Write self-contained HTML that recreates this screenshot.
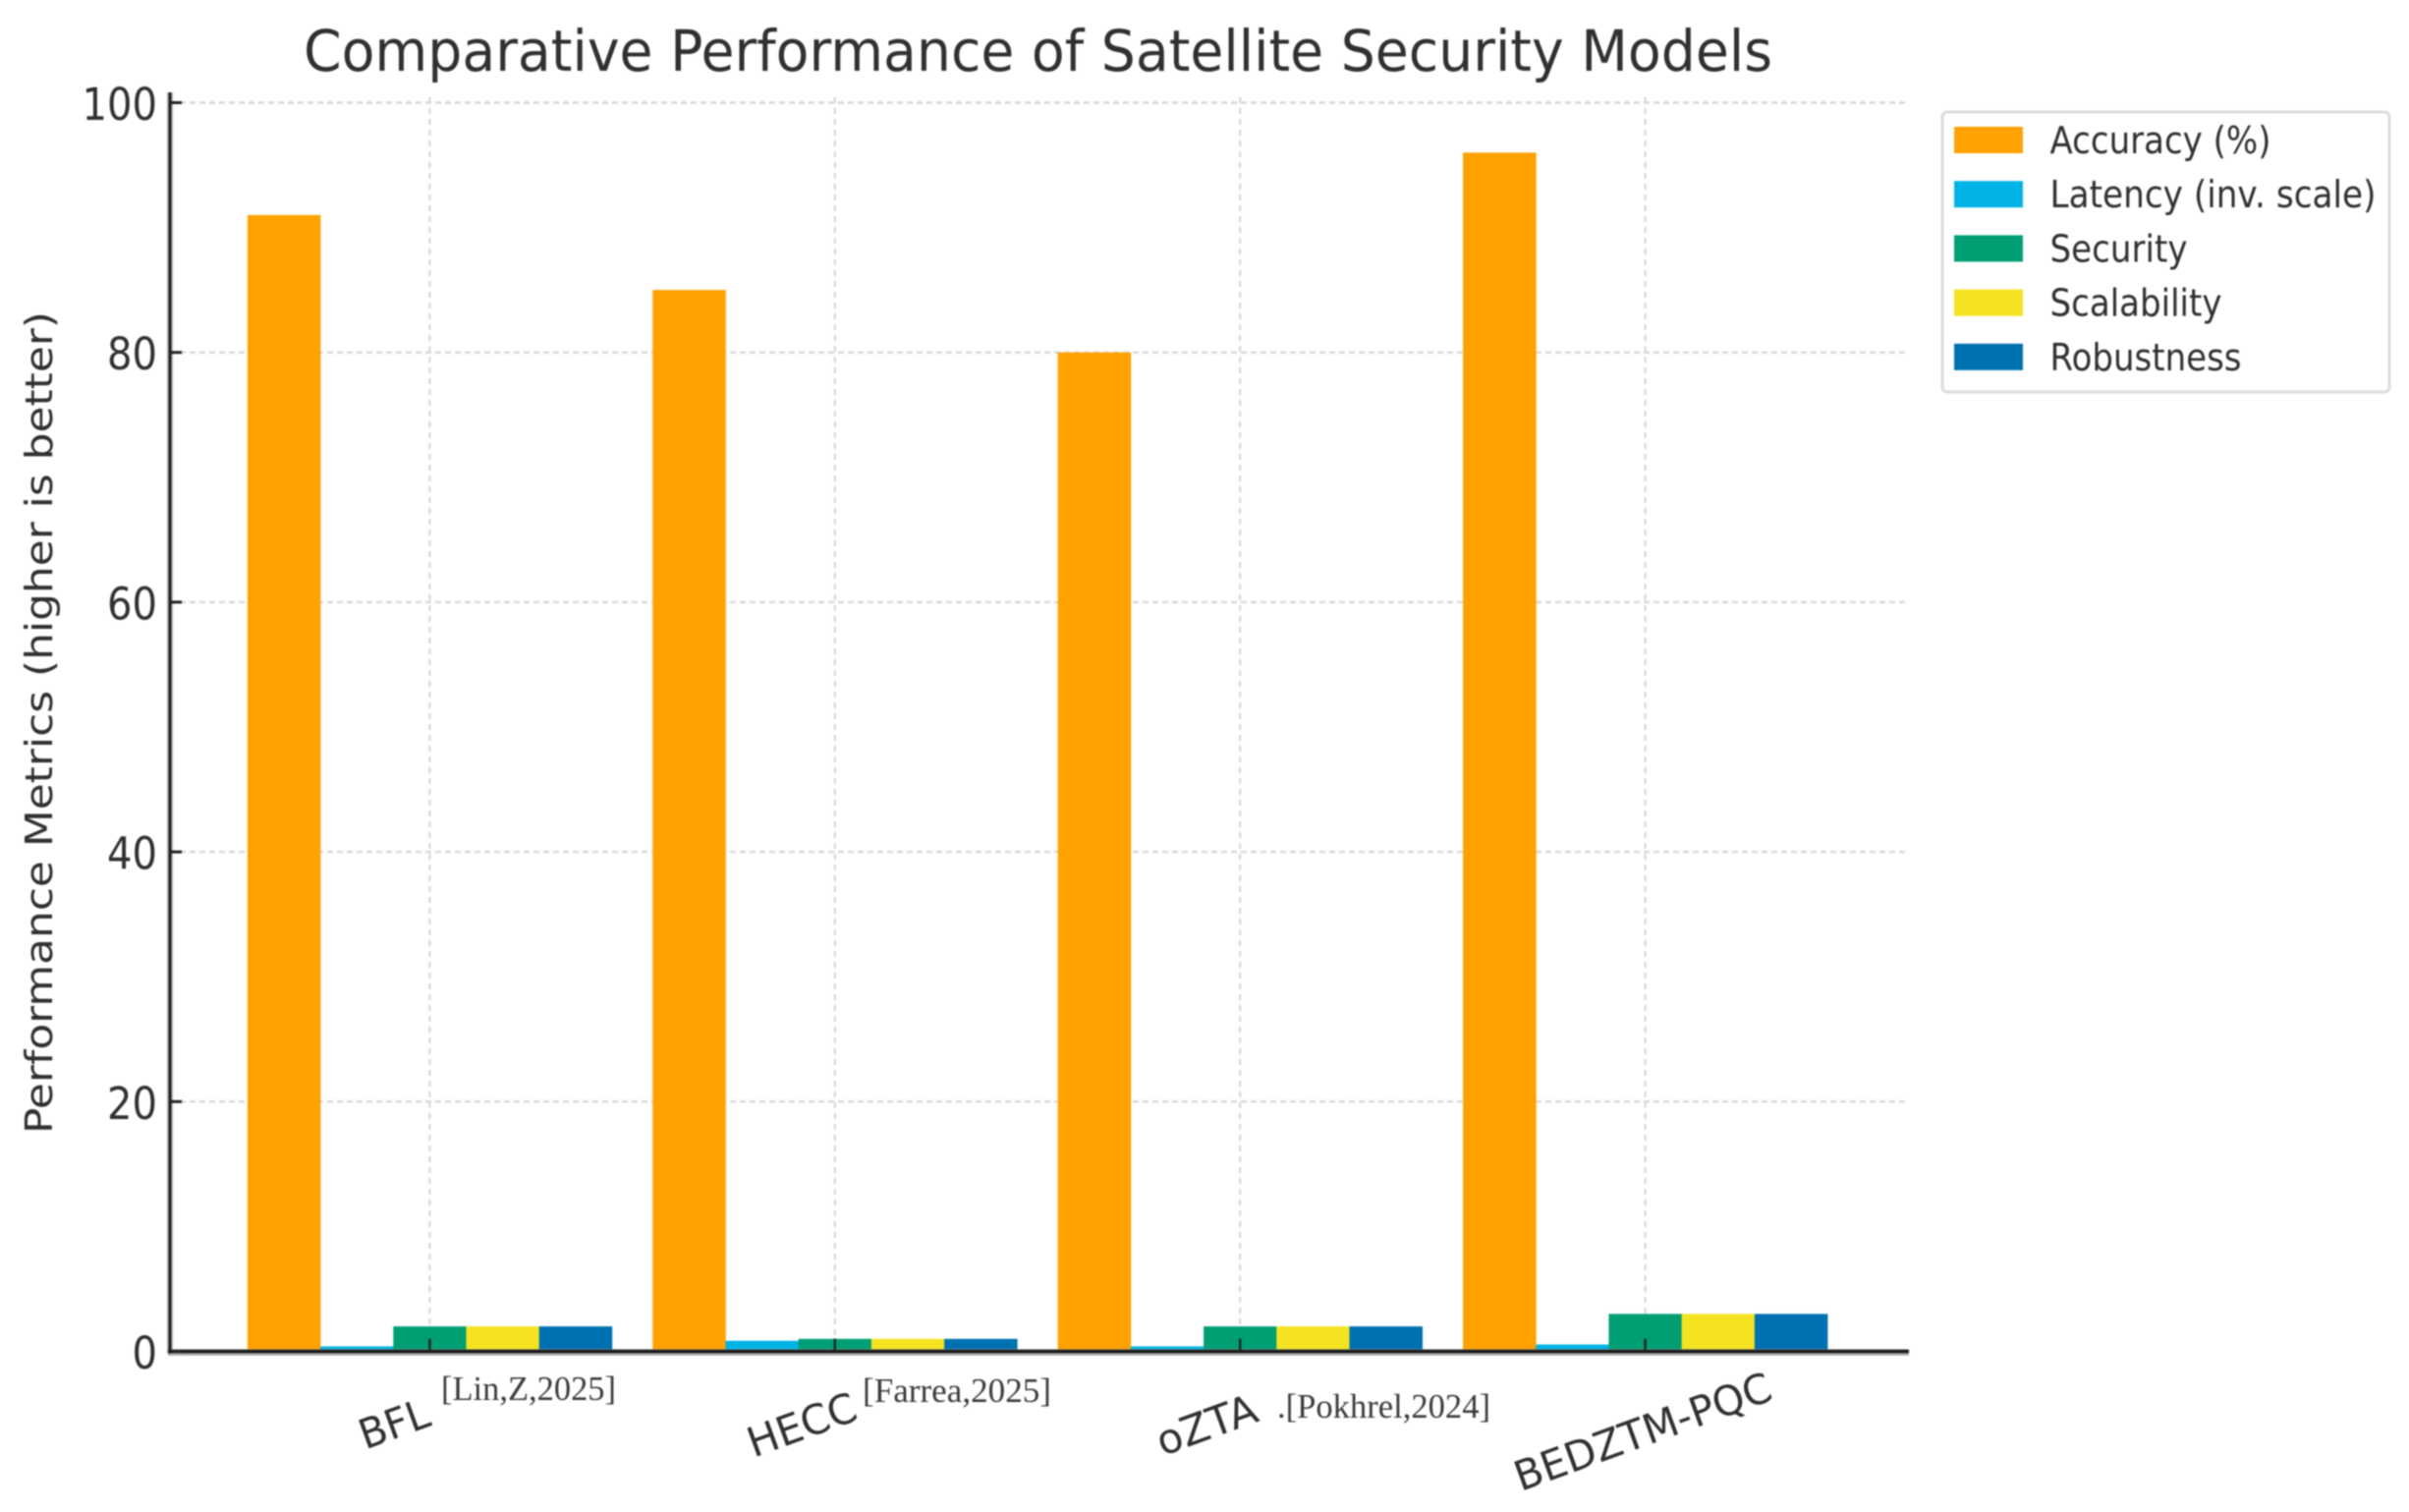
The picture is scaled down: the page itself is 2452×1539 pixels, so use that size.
<!DOCTYPE html>
<html lang="en">
<head>
<meta charset="utf-8">
<title>Comparative Performance of Satellite Security Models</title>
<style>
html,body{margin:0;padding:0;background:#fff;width:2452px;height:1539px;overflow:hidden}
svg{display:block;filter:blur(0.8px)}
text{font-family:"DejaVu Sans","Liberation Sans",sans-serif;fill:#303030}
</style>
</head>
<body>
<svg id="chart" xmlns="http://www.w3.org/2000/svg" width="2452" height="1539" viewBox="0 0 2452 1539">
  <rect x="0" y="0" width="2452" height="1539" fill="#ffffff"/>
  <text x="309" y="72" font-size="58" textLength="1495" lengthAdjust="spacingAndGlyphs">Comparative Performance of Satellite Security Models</text>
  <text transform="translate(53,1154) rotate(-90)" x="0" y="0" font-size="38" textLength="837" lengthAdjust="spacingAndGlyphs">Performance Metrics (higher is better)</text>
  <g id="grid"></g>
  <g id="bars"></g>
  <g id="axes"></g>
  <g id="legend"></g>
</svg>
<script>
const categories = ["BFL", "HECC", "oZTA", "BEDZTM-PQC"];
const citations = ["[Lin,Z,2025]", "[Farrea,2025]", ".[Pokhrel,2024]", ""];
const seriesNames = ["Accuracy (%)", "Latency (inv. scale)", "Security", "Scalability", "Robustness"];
const accuracy = [91, 85, 80, 96];
const latency = [0.4, 0.85, 0.4, 0.55];
const security = [2, 1, 2, 3];
const scalability = [2, 1, 2, 3];
const robustness = [2, 1, 2, 3];
const yTicks = [0, 20, 40, 60, 80, 100];

const allSeries = [accuracy, latency, security, scalability, robustness];
const seriesColors = ["#ffa100", "#00b3e6", "#009e73", "#f5e322", "#0071b0"];

const NS = "http://www.w3.org/2000/svg";
const plot = { left: 173, right: 1943, top: 94, bottom: 1375.5 };
const groupStart = 437.4;
const groupStep = 412.4;
const barWidth = 74.2;

function xCenter(i) { return groupStart + i * groupStep; }
function xBar(i, s) { return xCenter(i) + (s - 2.5) * barWidth; }
function yScale(v) { return 1375.5 - v * 12.71; }

function make(tag, attrs, parent, text) {
  const el = document.createElementNS(NS, tag);
  for (const k in attrs) el.setAttribute(k, attrs[k]);
  if (text !== undefined) el.textContent = text;
  parent.appendChild(el);
  return el;
}

const grid = document.getElementById("grid");
const bars = document.getElementById("bars");
const axes = document.getElementById("axes");
const legend = document.getElementById("legend");

/* grid lines */
yTicks.forEach(function (t) {
  if (t === 0) return;
  const l = make("line", { x1: plot.left, x2: plot.right, y1: yScale(t), y2: yScale(t), stroke: "#d8d8d8", "stroke-width": 2.4, "stroke-dasharray": "6 4" }, grid);
  
  
});
categories.forEach(function (c, i) {
  const l = make("line", { x1: xCenter(i), x2: xCenter(i), y1: 99, y2: plot.bottom, stroke: "#d8d8d8", "stroke-width": 2.2, "stroke-dasharray": "6 5" }, grid);
  
  
});

/* bars */
allSeries.forEach(function (values, s) {
  values.forEach(function (v, i) {
    const r = make("rect", { x: xBar(i, s), y: yScale(v), width: barWidth + 0.3, height: yScale(0) - yScale(v), fill: seriesColors[s] }, bars);
    
    
  });
});

/* axis spines with the soft halo seen in the reference */
const leftHalo = make("line", { x1: plot.left, x2: plot.left, y1: plot.top, y2: plot.bottom + 2, stroke: "#c4c4c4", "stroke-width": 6.5 }, axes);


const bottomHalo = make("line", { x1: plot.left - 2, x2: plot.right, y1: plot.bottom + 1, y2: plot.bottom + 1, stroke: "#aaaaaa", "stroke-width": 6.5 }, axes);


const leftSpine = make("line", { x1: plot.left, x2: plot.left, y1: plot.top, y2: plot.bottom + 2, stroke: "#222", "stroke-width": 3.2 }, axes);


const bottomSpine = make("line", { x1: plot.left - 2, x2: plot.right, y1: plot.bottom, y2: plot.bottom, stroke: "#1a1a1a", "stroke-width": 3.6 }, axes);



/* y ticks */
yTicks.forEach(function (t) {
  const y = yScale(t);
  const m = make("line", { x1: plot.left, x2: plot.left + 12, y1: y, y2: y, stroke: "#222", "stroke-width": 3 }, axes);
  
  
  const label = String(t);
  const tx = make("text", { x: 160, y: y + 17.5, "text-anchor": "end", "font-size": 45, textLength: label.length * 25.5, lengthAdjust: "spacingAndGlyphs" }, axes, label);
  
  
});

/* x ticks and labels */
const labelLayout = [
  { cx: 401, cy: 1449, len: 73 },
  { cx: 816, cy: 1450, len: 115 },
  { cx: 1228, cy: 1450, len: 106 },
  { cx: 1672, cy: 1457, len: 275 }
];
const citeLayout = [
  { x: 449, y: 1425, len: 178 },
  { x: 878, y: 1427, len: 192 },
  { x: 1300, y: 1443, len: 217 },
  { x: 0, y: 0, len: 0 }
];
categories.forEach(function (c, i) {
  const m = make("line", { x1: xCenter(i), x2: xCenter(i), y1: plot.bottom, y2: plot.bottom - 13, stroke: "#222", "stroke-width": 2.4 }, axes);
  
  
  const p = labelLayout[i];
  const tx = make("text", { transform: "translate(" + p.cx + "," + p.cy + ") rotate(-20)", x: 0, y: 15, "text-anchor": "middle", "font-size": 42, textLength: p.len, lengthAdjust: "spacingAndGlyphs" }, axes, c);
  
  
  if (citations[i]) {
    const q = citeLayout[i];
    const ct = make("text", { x: q.x, y: q.y, "font-size": 35, textLength: q.len, lengthAdjust: "spacingAndGlyphs", style: 'font-family:"Liberation Serif",serif;fill:#3a3a3a' }, axes, citations[i]);
    
    
  }
});

/* legend */
const legendBox = make("rect", { x: 1977, y: 114, width: 455, height: 285, rx: 5, ry: 5, fill: "#fff", stroke: "#dcdcdc", "stroke-width": 3 }, legend);


const legendLens = [225, 332, 140, 175, 195];
seriesNames.forEach(function (name, s) {
  const top = 129 + s * 55.2;
  const sw = make("rect", { x: 1989, y: top, width: 70, height: 27, fill: seriesColors[s] }, legend);
  
  
  const tx = make("text", { x: 2086.5, y: top + 27, "font-size": 38, textLength: legendLens[s], lengthAdjust: "spacingAndGlyphs" }, legend, name);
  
  
});
</script>
</body>
</html>
